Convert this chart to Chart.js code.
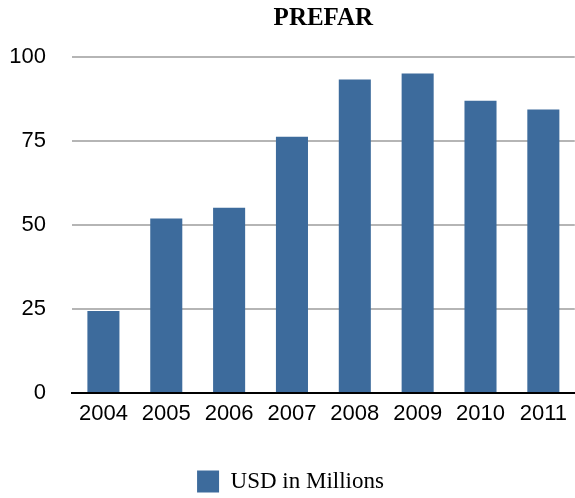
<!DOCTYPE html>
<html>
<head>
<meta charset="utf-8">
<script src="https://cdn.jsdelivr.net/npm/chart.js@4/dist/chart.umd.min.js"></script>
<style>
  html, body { margin: 0; padding: 0; background: #fff; }
  #wrap { width: 575px; height: 498px; }
</style>
</head>
<body>
<div id="wrap"><canvas id="prefarChart" width="575" height="498"></canvas></div>
<script>
// Data
const years = ['2004', '2005', '2006', '2007', '2008', '2009', '2010', '2011'];
const usdMillions = [24.4, 51.9, 55.1, 76.3, 93.3, 95.1, 87.0, 84.4];
const yTicks = [0, 25, 50, 75, 100];

const barColor = '#3d6b9c';

// title centred over the plot area, legend nudged toward the bottom edge
const layoutTweaks = {
    id: 'layoutTweaks',
    afterLayout(chart) {
        if (chart.titleBlock) {
            chart.titleBlock.left = chart.chartArea.left;
            chart.titleBlock.right = chart.chartArea.right;
        }
        if (chart.legend) {
            chart.legend.top += 5;
            chart.legend.bottom += 5;
            chart.legend.left += 3;
            chart.legend.right += 3;
        }
    }
};

const ctx = document.getElementById('prefarChart').getContext('2d');
new Chart(ctx, {
    type: 'bar',
    data: {
        labels: years,
        datasets: [{
            label: 'USD in Millions',
            data: usdMillions,
            backgroundColor: barColor,
            borderWidth: 0,
            barPercentage: 0.51,
            categoryPercentage: 1.0
        }]
    },
    plugins: [layoutTweaks],
    options: {
        responsive: false,
        animation: false,
        layout: { padding: { left: 0, right: 0, top: 0, bottom: 0 } },
        scales: {
            x: {
                grid: { display: false, drawTicks: false },
                border: { display: true, color: '#000', width: 2 },
                ticks: {
                    color: '#000',
                    padding: 8,
                    font: { family: 'Liberation Sans, Arial, sans-serif', size: 22 }
                },
                afterFit: function(scale) { scale.height = 66; }
            },
            y: {
                min: 0,
                max: 100,
                afterBuildTicks: function(scale) {
                    scale.ticks = yTicks.map(v => ({ value: v }));
                },
                grid: { color: '#b5b5b5', lineWidth: 2, drawTicks: false },
                border: { display: false },
                ticks: {
                    color: '#000',
                    padding: 26,
                    font: { family: 'Liberation Sans, Arial, sans-serif', size: 22 }
                },
                afterFit: function(scale) { scale.width = 72; }
            }
        },
        plugins: {
            title: {
                display: true,
                text: 'PREFAR',
                color: '#000',
                font: { family: 'Liberation Serif, Times New Roman, serif', size: 25, weight: 'bold' },
                padding: { top: 4, bottom: 23 }
            },
            legend: {
                position: 'bottom',
                labels: {
                    color: '#000',
                    boxWidth: 22,
                    boxHeight: 22,
                    padding: 6,
                    font: { family: 'Liberation Serif, Times New Roman, serif', size: 23 }
                }
            },
            tooltip: { enabled: false }
        }
    }
});
</script>
</body>
</html>
